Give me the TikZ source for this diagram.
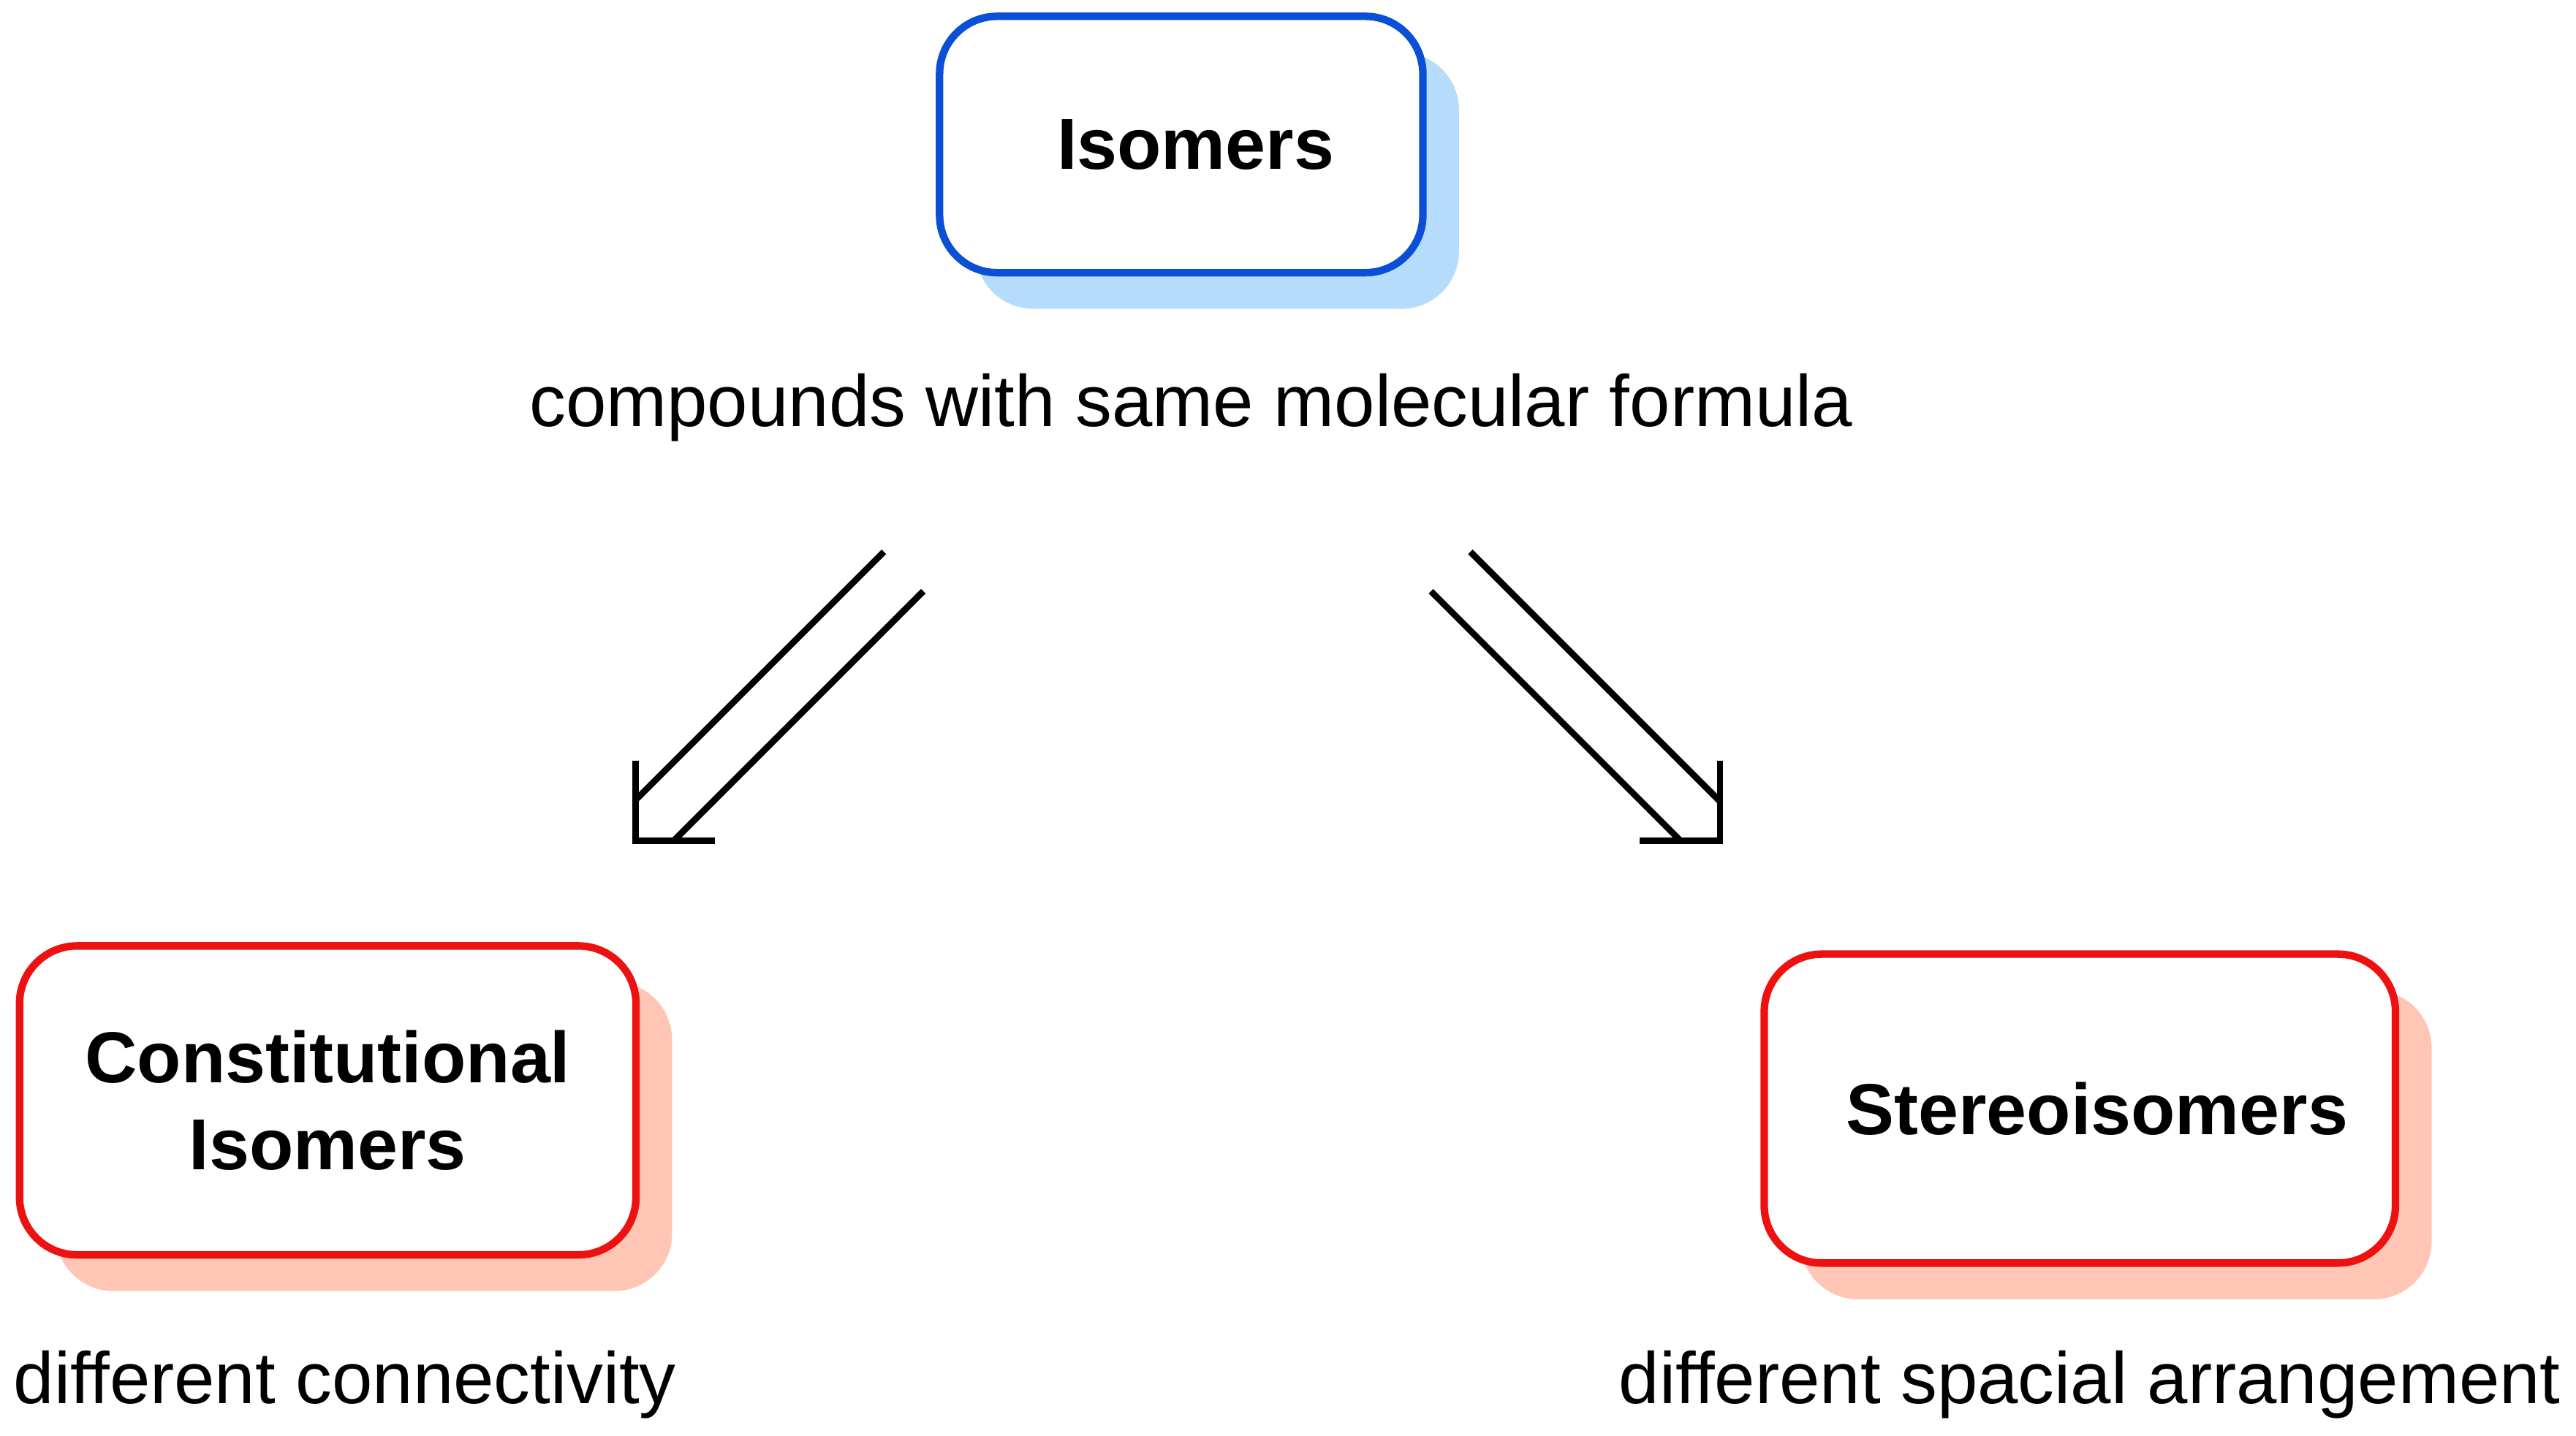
\documentclass[tikz,border=0pt]{standalone}
\usepackage{fontspec}
\setmainfont{Liberation Sans}
\usetikzlibrary{shadows}
\definecolor{isoblue}{HTML}{0A4FD6}
\definecolor{isored}{HTML}{EE1111}
\definecolor{blueshade}{HTML}{B5DDFB}
\definecolor{redshade}{HTML}{FFC6B6}
\tikzset{
  classbox/.style={draw, line width=1.3pt, rounded corners=0.35cm, fill=white,
    align=center, font=\fontsize{12.5}{15}\selectfont\bfseries},
  topbox/.style={classbox, draw=isoblue,
    drop shadow={shadow xshift=0.22cm, shadow yshift=-0.22cm, fill=blueshade, opacity=1}},
  subbox/.style={classbox, draw=isored,
    drop shadow={shadow xshift=0.22cm, shadow yshift=-0.22cm, fill=redshade, opacity=1}},
  desc/.style={font=\fontsize{12.6}{15}\selectfont},
  shaft/.style={line width=1.1pt},
}
\begin{document}
\begin{tikzpicture}[x=0.01cm, y=-0.01cm]
\useasboundingbox (0,0) rectangle (1568,874);

\node (iso) [topbox, minimum width=2.94cm, minimum height=1.56cm] at (719,88) {\hspace*{5pt}Isomers};
\node (isotext) [desc] at (725,248) {compounds with same molecular formula};

\node (const) [subbox, minimum width=3.75cm, minimum height=1.88cm] at (199.5,670) {Constitutional\\[0pt]Isomers};
\node (consttext) [desc] at (210,843) {different connectivity};

\node (stereo) [subbox, minimum width=3.84cm, minimum height=1.88cm] at (1266,675) {\hspace*{6pt}Stereoisomers};
\node (stereotext) [desc] at (1272,843) {different spacial arrangement};

% left double arrow
\coordinate (la1) at (538,336);
\coordinate (la2) at (562,360);
\coordinate (lhead) at (387,512);
\draw [shaft] (la1) -- (387,487);
\draw [shaft] (la2) -- (410,512);
\draw [shaft] (387,463) -- (lhead) -- (435,512);

% right double arrow
\coordinate (ra1) at (895,336);
\coordinate (ra2) at (871,360);
\coordinate (rhead) at (1047,512);
\draw [shaft] (ra1) -- (1047,488);
\draw [shaft] (ra2) -- (1023,512);
\draw [shaft] (1047,463) -- (rhead) -- (998,512);

\end{tikzpicture}
\end{document}
